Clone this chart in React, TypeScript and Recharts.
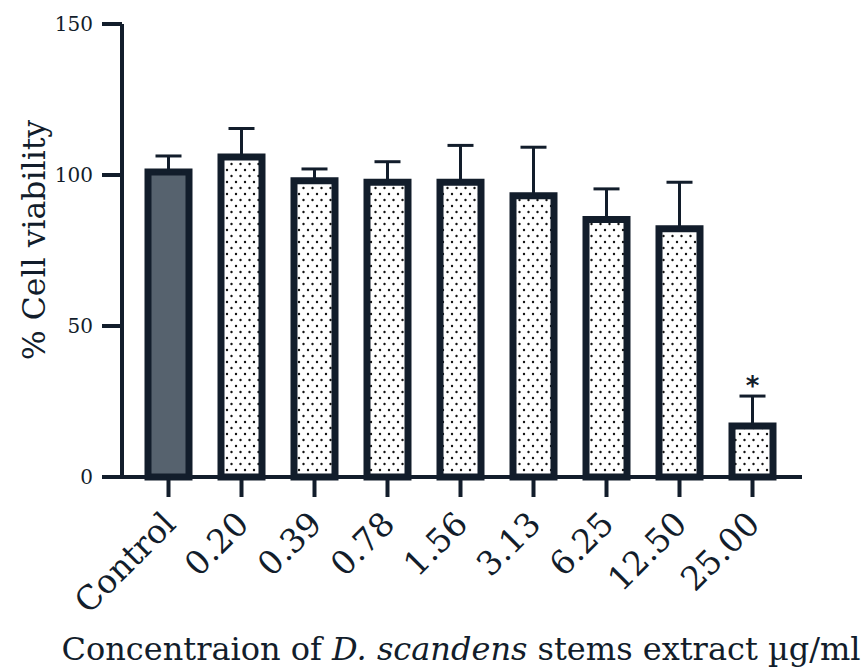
import React from 'react'
import { ComposedChart, Bar, Line, XAxis, YAxis, ErrorBar, Cell, LabelList } from 'recharts'

const concentrations = ['Control', '0.20', '0.39', '0.78', '1.56', '3.13', '6.25', '12.50', '25.00']
const viability = [101, 106, 98.1, 97.6, 97.6, 93.1, 85.3, 82.2, 16.9]
const sdUpper = [5.3, 9.4, 3.9, 6.8, 12.2, 16.1, 10.1, 15.4, 9.9]
const significance = ['', '', '', '', '', '', '', '', '*']
const yTicks = [0, 50, 100, 150]

const INK = '#121d2b'
const CONTROL_FILL = '#56626e'
const SERIF = '"DejaVu Serif", serif'

const data = concentrations.map((c, i) => ({
  name: c,
  viability: viability[i],
  err: [0, sdUpper[i]],
  starAt: significance[i] ? viability[i] + sdUpper[i] : null,
  sig: significance[i],
}))

const RotatedTick = ({ x, y, payload }: any) => (
  <g transform={`translate(${x + 9},${y + 27})`}>
    <text textAnchor="end" transform="rotate(-45)" fontFamily={SERIF} fontSize={33} fill={INK}>
      {payload.value}
    </text>
  </g>
)

const Star = ({ x, y, value }: any) =>
  value ? (
    <text x={x} y={y - 1} textAnchor="middle" fontFamily='"DejaVu Sans", sans-serif' fontWeight="bold" fontSize={26} fill={INK}>
      {value}
    </text>
  ) : null

const XTitle = () => (
  <text x={461} y={660} textAnchor="middle" fontFamily={SERIF} fontSize={32} fill={INK}>
    Concentraion of <tspan fontStyle="italic">D. scandens</tspan> stems extract µg/ml
  </text>
)

const YTitle = () => (
  <text transform="translate(45,240) rotate(-90)" textAnchor="middle" fontFamily={SERIF} fontSize={31.5} fill={INK}>
    % Cell viability
  </text>
)

export default function App() {
  return (
    <div style={{ position: 'absolute', left: 0, top: 0, background: '#fff' }}>
      <ComposedChart width={861} height={667} data={data} margin={{ top: 24, right: 59, bottom: 0, left: 0 }} barCategoryGap={0}>
        <defs>
          <pattern id="dots" width={9} height={12} patternUnits="userSpaceOnUse">
            <rect width={9} height={12} fill="#fff" />
            <circle cx={2} cy={2} r={1.2} fill="#111" />
            <circle cx={6.5} cy={8} r={1.2} fill="#111" />
          </pattern>
        </defs>
        <XAxis
          dataKey="name"
          type="category"
          height={190}
          padding={{ left: 10, right: 13 }}
          tickSize={20}
          interval={0}
          tick={<RotatedTick />}
          axisLine={{ stroke: INK, strokeWidth: 4 }}
          tickLine={{ stroke: INK, strokeWidth: 4 }}
          label={<XTitle />}
        />
        <YAxis
          domain={[0, 150]}
          ticks={yTicks}
          width={122}
          tickSize={20}
          tickMargin={9}
          tick={{ fontFamily: SERIF, fontSize: 20, fill: INK }}
          axisLine={{ stroke: INK, strokeWidth: 4 }}
          tickLine={{ stroke: INK, strokeWidth: 4 }}
          label={<YTitle />}
        />
        <Bar dataKey="viability" barSize={41} stroke={INK} strokeWidth={7} fill="url(#dots)" isAnimationActive={false}>
          {data.map((d, i) => (
            <Cell key={d.name} fill={i === 0 ? CONTROL_FILL : 'url(#dots)'} />
          ))}
          <ErrorBar dataKey="err" width={13} stroke={INK} strokeWidth={3} direction="y" />
        </Bar>
        <Line dataKey="starAt" stroke="none" dot={false} activeDot={false} legendType="none" isAnimationActive={false}>
          <LabelList dataKey="sig" content={<Star />} />
        </Line>
      </ComposedChart>
    </div>
  )
}
